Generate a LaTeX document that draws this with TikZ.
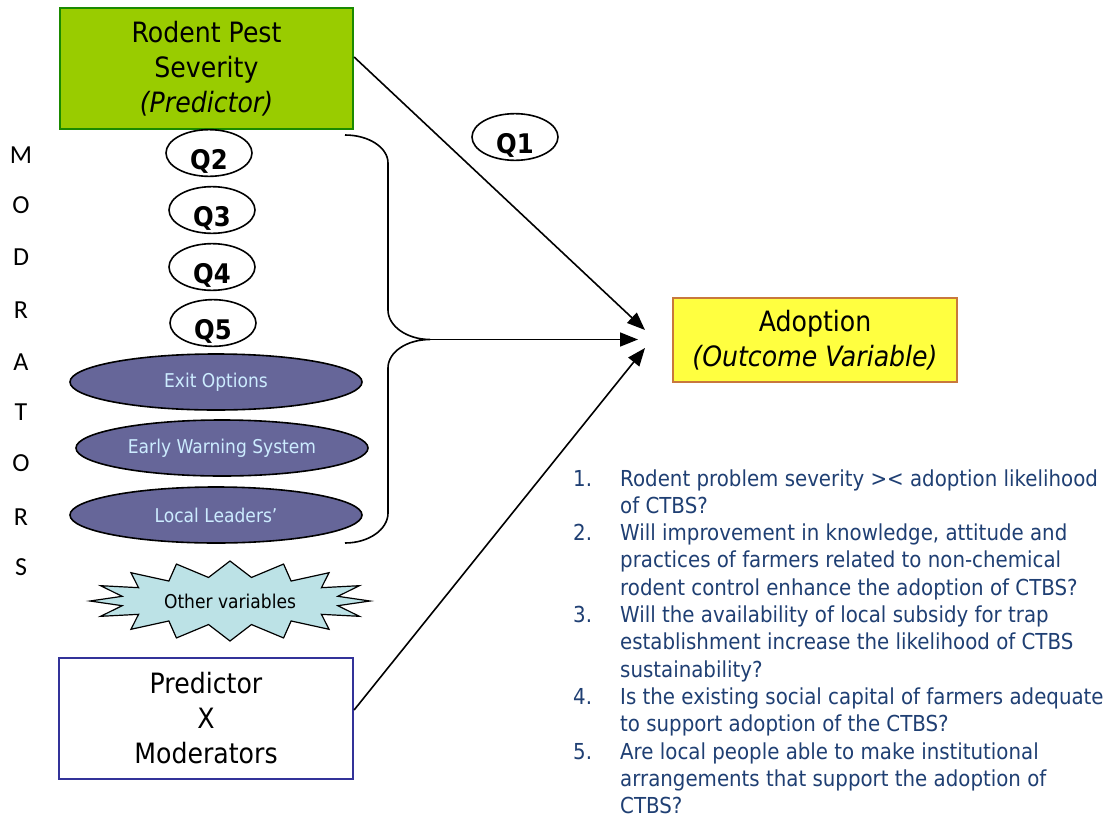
\documentclass[tikz,border=0pt]{standalone}
\usepackage{fontspec}
\setmainfont{DejaVu Sans}[FakeStretch=0.9]
\newfontfamily\carl{Carlito}
\usetikzlibrary{arrows.meta,shapes.geometric}
\definecolor{grfill}{HTML}{99CC00}
\definecolor{grdraw}{HTML}{1A8A00}
\definecolor{yfill}{HTML}{FFFF40}
\definecolor{ydraw}{HTML}{C8783C}
\definecolor{purp}{HTML}{666699}
\definecolor{ptext}{HTML}{CCECFF}
\definecolor{starfill}{HTML}{BCE2E6}
\definecolor{bluebox}{HTML}{333399}
\definecolor{listblue}{HTML}{1F3F73}
\begin{document}
\begin{tikzpicture}[x=1pt,y=-1pt,
  bigtext/.style={font=\fontsize{28}{35}\selectfont, align=center, inner sep=0pt},
  qell/.style={draw, ellipse, line width=1.6pt, minimum width=86pt, minimum height=44pt, inner sep=0pt,
    font=\fontsize{27}{30}\selectfont\bfseries, text height=33pt, text depth=0pt},
  pell/.style={draw, ellipse, line width=1.6pt, fill=purp, text=ptext, minimum width=292pt, minimum height=56pt,
    inner sep=0pt, font=\fontsize{19}{22}\selectfont},
  modl/.style={font=\carl\fontsize{26}{28}\selectfont, inner sep=0pt},
  arr/.style={line width=1.6pt, -{Triangle[length=18pt,width=14pt]}},
  brace/.style={line width=1.6pt},
  listtxt/.style={font=\fontsize{22}{26}\selectfont, text=listblue, inner sep=0pt, anchor=base west}
]
\useasboundingbox (0,0) rectangle (1117,817);
\fill[white] (0,0) rectangle (1117,817);

% predictor box
\node[draw=grdraw, fill=grfill, line width=2.2pt, minimum width=293pt, minimum height=121pt, bigtext]
  (pred) at (206.5,68.5) {Rodent Pest\\Severity\\\textit{(Predictor)}};

% outcome box
\node[draw=ydraw, fill=yfill, line width=1.4pt, minimum width=284pt, minimum height=84pt, bigtext]
  (adopt) at (815,340) {Adoption\\\textit{(Outcome Variable)}};

% interaction box
\node[draw=bluebox, fill=white, line width=2.2pt, minimum width=294pt, minimum height=121pt, bigtext]
  (inter) at (206,718.5) {Predictor\\X\\Moderators};

% Q ellipses
\node[qell] (q1) at (515,137) {Q1};
\node[qell] (q2) at (209,153) {Q2};
\node[qell] (q3) at (212,210) {Q3};
\node[qell] (q4) at (212,267) {Q4};
\node[qell] (q5) at (213,323) {Q5};

% moderator ellipses
\node[pell] (exit) at (216,382) {Exit Options};
\node[pell] (early) at (222,448) {Early Warning System};
\node[pell] (lead) at (216,515) {Local Leaders'};

% star
\draw[fill=starfill, line width=1.2pt]
  (370,601) \foreach \i in {1,...,31} {
    -- ({230+ifthenelse(isodd(\i),110,140)*cos(\i*11.25)},{601+ifthenelse(isodd(\i),24,40)*sin(\i*11.25)})
  } -- cycle;
\node[font=\fontsize{19}{22}\selectfont, inner sep=0pt] (other) at (230,601) {Other variables};

% MODRATORS letters
\foreach \c/\y [count=\n] in {M/155,O/205,D/257,R/310,A/362,T/412,O/463,R/517,S/567}
  \node[modl] (m\n) at (21,\y) {\c};

% brace
\coordinate (brtop) at (345,135);
\coordinate (brbot) at (345,543);
\coordinate (brtip) at (430,339.5);
\draw[brace] (brtop) .. controls (368.7,135) and (388,147.5) .. (388,163)
  -- (388,310) .. controls (388,326) and (406.8,339.5) .. (brtip)
  .. controls (406.8,339.5) and (388,352) .. (388,368)
  -- (388,513) .. controls (388,529.5) and (368.7,543) .. (brbot);

% arrow targets
\coordinate (t1) at (645,330);
\coordinate (t2) at (638,339.5);
\coordinate (t3) at (645,348);

\draw[arr] ([yshift=11.5pt]pred.east) -- (t1);
\draw[arr] (brtip) -- (t2);
\draw[arr] ([yshift=8.5pt]inter.east) -- (t3);

% numbered list
\foreach \k/\t in {
  {0/Rodent problem severity >< adoption likelihood},
  {1/of CTBS?},
  {2/Will improvement in knowledge, attitude and},
  {3/practices of farmers related to non-chemical},
  {4/rodent control enhance the adoption of CTBS?},
  {5/Will the availability of local subsidy for trap},
  {6/establishment increase the likelihood of CTBS},
  {7/sustainability?},
  {8/Is the existing social capital of farmers adequate},
  {9/to support adoption of the CTBS?},
  {10/Are local people able to make institutional},
  {11/arrangements that support the adoption of},
  {12/CTBS?}}
  \node[listtxt] (l\k) at (620,{486+27.3*\k}) {\t};
\foreach \k/\t in {0/1.,2/2.,5/3.,8/4.,10/5.}
  \node[listtxt] (n\k) at (573,{486+27.3*\k}) {\t};
\end{tikzpicture}
\end{document}
